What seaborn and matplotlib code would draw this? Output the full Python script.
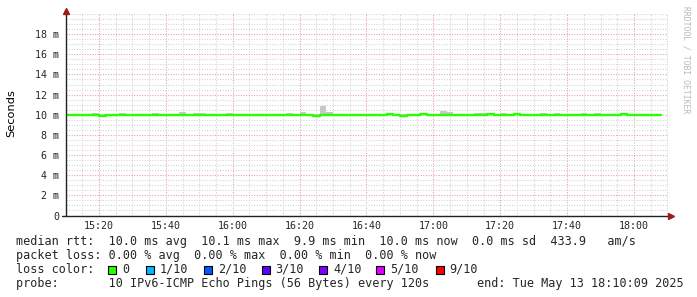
import matplotlib
matplotlib.use("Agg")
import matplotlib.pyplot as plt
import matplotlib.dates as mdates
from matplotlib.ticker import MultipleLocator, FuncFormatter
from matplotlib.lines import Line2D
from matplotlib.patches import Rectangle
import pandas as pd
import seaborn as sns

# ---------------- data (milliseconds, one value per 2-minute step) ----------------
median_ms = [10.0, 10.0, 10.0, 10.0, 10.0, 9.9, 10.0, 10.0, 10.0, 10.0,
             10.0, 10.0, 10.0, 10.0, 10.0, 10.0, 10.0, 10.0, 10.0, 10.0,
             10.0, 10.0, 10.0, 10.0, 10.0, 10.0, 10.0, 10.0, 10.0, 10.0,
             10.0, 10.0, 10.0, 10.0, 10.0, 10.0, 10.0, 9.9, 10.0, 10.0,
             10.0, 10.0, 10.0, 10.0, 10.0, 10.0, 10.0, 10.0, 10.05, 10.0,
             9.9, 10.0, 10.0, 10.05, 10.0, 10.0, 10.0, 10.0, 10.0, 10.0,
             10.0, 10.0, 10.0, 10.05, 10.0, 10.0, 10.0, 10.05, 10.0, 10.0,
             10.0, 10.0, 10.0, 10.0, 10.0, 10.0, 10.0, 10.0, 10.0, 10.0,
             10.0, 10.0, 10.0, 10.05, 10.0, 10.0, 10.0, 10.0, 10.0]
smoke_hi_ms = [10.03, 10.03, 10.03, 10.03, 10.2, 10.03, 10.03, 10.03, 10.15, 10.03,
               10.03, 10.03, 10.03, 10.15, 10.03, 10.03, 10.03, 10.25, 10.03, 10.2,
               10.2, 10.03, 10.03, 10.03, 10.15, 10.03, 10.03, 10.03, 10.03, 10.03,
               10.03, 10.03, 10.03, 10.2, 10.03, 10.25, 10.03, 10.03, 10.85, 10.25,
               10.03, 10.03, 10.03, 10.03, 10.03, 10.03, 10.03, 10.03, 10.08, 10.03,
               10.03, 10.03, 10.03, 10.2, 10.03, 10.03, 10.35, 10.3, 10.03, 10.03,
               10.03, 10.2, 10.2, 10.08, 10.03, 10.2, 10.03, 10.08, 10.03, 10.03,
               10.03, 10.2, 10.03, 10.2, 10.03, 10.03, 10.03, 10.2, 10.03, 10.2,
               10.03, 10.03, 10.03, 10.2, 10.03, 10.03, 10.03, 10.03, 10.03]
smoke_lo_ms = [9.97, 9.97, 9.97, 9.97, 9.97, 9.85, 9.97, 9.97, 9.85, 9.97,
               9.97, 9.97, 9.97, 9.97, 9.97, 9.97, 9.97, 9.97, 9.97, 9.97,
               9.97, 9.97, 9.97, 9.97, 9.97, 9.97, 9.97, 9.97, 9.97, 9.97,
               9.97, 9.97, 9.97, 9.97, 9.97, 9.97, 9.85, 9.85, 9.97, 9.97,
               9.97, 9.85, 9.85, 9.85, 9.97, 9.97, 9.85, 9.97, 9.97, 9.97,
               9.85, 9.97, 9.97, 9.97, 9.97, 9.97, 9.97, 9.97, 9.97, 9.97,
               9.97, 9.97, 9.97, 9.97, 9.97, 9.97, 9.97, 9.97, 9.85, 9.85,
               9.97, 9.97, 9.97, 9.97, 9.85, 9.97, 9.97, 9.97, 9.97, 9.97,
               9.97, 9.97, 9.97, 9.97, 9.97, 9.97, 9.85, 9.85, 9.97]
series_start = "2025-05-13 15:10:00"
view_start = "2025-05-13 15:10:09"
view_end = "2025-05-13 18:10:09"
y_tick_values = [0, 2, 4, 6, 8, 10, 12, 14, 16, 18]

stats_line = "median rtt:  10.0 ms avg  10.1 ms max  9.9 ms min  10.0 ms now  0.0 ms sd  433.9   am/s"
loss_line = "packet loss: 0.00 % avg  0.00 % max  0.00 % min  0.00 % now"
loss_labels = ["0", "1/10", "2/10", "3/10", "4/10", "5/10", "9/10"]
loss_colors = ["#26ff00", "#00b8ff", "#0059ff", "#5e00ff", "#7e00ff", "#dd00ff", "#ff0000"]
probe_line = "probe:       10 IPv6-ICMP Echo Pings (56 Bytes) every 120s"
end_line = "end: Tue May 13 18:10:09 2025"

# ---------------- figure ----------------
sns.set_theme(style="white")
plt.rcParams["font.family"] = ["DejaVu Sans Mono", "DejaVu Sans"]

W, H = 697, 297
fig = plt.figure(figsize=(W / 100, H / 100), dpi=100)
fig.patch.set_facecolor("white")

def fx(px):
    return px / W

def fy(py):
    return 1 - py / H

ax_l, ax_r, ax_t, ax_b = 66, 668, 14, 215.5
ax = fig.add_axes([fx(ax_l), fy(ax_b), (ax_r - ax_l) / W, (ax_b - ax_t) / H])
ax.set_facecolor("white")

n = len(median_ms)
edges = pd.date_range(series_start, periods=n + 1, freq="2min")
df = pd.DataFrame({
    "time": edges,
    "median": median_ms + [median_ms[-1]],
    "lo": smoke_lo_ms + [smoke_lo_ms[-1]],
    "hi": smoke_hi_ms + [smoke_hi_ms[-1]],
})

ax.fill_between(df["time"], df["lo"], df["hi"], step="post",
                color="#c8c8c8", linewidth=0, zorder=2)
sns.lineplot(data=df, x="time", y="median", ax=ax, drawstyle="steps-post",
             color="#26ff00", linewidth=1.7, estimator=None, zorder=3)

ax.set_xlim(pd.Timestamp(view_start), pd.Timestamp(view_end))
ax.set_ylim(0, 20)

ax.xaxis.set_major_locator(mdates.MinuteLocator(byminute=[0, 20, 40]))
ax.xaxis.set_minor_locator(mdates.MinuteLocator(byminute=range(0, 60, 5)))
ax.xaxis.set_major_formatter(mdates.DateFormatter("%H:%M"))
ax.set_yticks(y_tick_values)
ax.yaxis.set_minor_locator(MultipleLocator(0.5))
ax.yaxis.set_major_formatter(FuncFormatter(lambda v, p: "0" if v == 0 else f"{v:g} m"))

ax.grid(True, which="minor", color="#d2d2d2", linestyle=(0, (1, 1.5)), linewidth=0.75)
ax.grid(True, which="major", color="#e6a0a0", linestyle=(0, (1, 1.5)), linewidth=0.75)
ax.set_axisbelow(True)

ax.tick_params(axis="both", which="both", length=0)
ax.tick_params(axis="y", pad=5, labelsize=7.2)
ax.tick_params(axis="x", pad=4, labelsize=7.2)
ax.set_xlabel("")
ax.set_ylabel("")
for s in ax.spines.values():
    s.set_visible(False)

# axis lines with arrows
fig.add_artist(Line2D([fx(66), fx(66)], [fy(215.5), fy(11)], color="#222222", linewidth=1.0))
fig.add_artist(Line2D([fx(62), fx(670)], [fy(215.5), fy(215.5)], color="#222222", linewidth=1.0))
fig.add_artist(Line2D([fx(66)], [fy(10.5)], marker="^", markersize=4.5, color="#9b1c1c",
                      linestyle="none"))
fig.add_artist(Line2D([fx(671)], [fy(215.5)], marker=">", markersize=4.5, color="#9b1c1c",
                      linestyle="none"))

fig.text(fx(11), fy(113), "Seconds", rotation=90, ha="center", va="center",
         fontsize=8.2, family="DejaVu Sans", color="#000000")
fig.text(fx(686), fy(60), "RRDTOOL / TOBI OETIKER", rotation=270, ha="center", va="center",
         fontsize=5.8, color="#b8b8b8")

# ---------------- legend text ----------------
fs = 8.5
fig.text(fx(16), fy(241.5), stats_line, fontsize=fs, va="center", ha="left")
fig.text(fx(16), fy(255.5), loss_line, fontsize=fs, va="center", ha="left")
fig.text(fx(16), fy(269.5), "loss color:", fontsize=fs, va="center", ha="left")
box_x = [108, 146, 204, 262, 319, 376, 436]
lab_x = [122, 160, 218, 275, 333, 390, 449]
for bx, lx, lab, col in zip(box_x, lab_x, loss_labels, loss_colors):
    fig.add_artist(Rectangle((fx(bx), fy(273.5)), 8 / W, 8 / H, facecolor=col,
                             edgecolor="black", linewidth=0.8))
    fig.text(fx(lx), fy(269.5), lab, fontsize=fs, va="center", ha="left")
fig.text(fx(16), fy(283.5), probe_line, fontsize=fs, va="center", ha="left")
fig.text(fx(477), fy(283.5), end_line, fontsize=fs, va="center", ha="left")

fig.savefig("out.png", dpi=100, facecolor="white")
